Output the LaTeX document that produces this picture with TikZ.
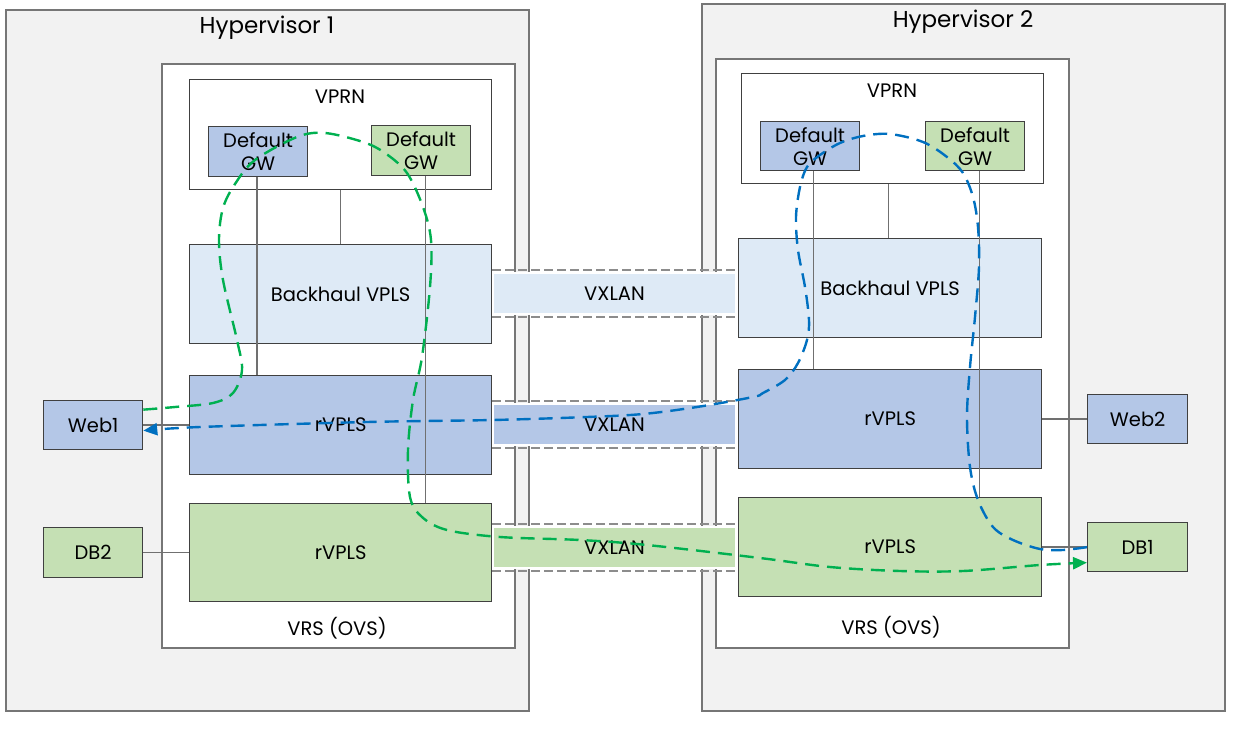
\documentclass[tikz,border=0pt]{standalone}
\usepackage{fontspec}
\setmainfont{Poppins}
\usetikzlibrary{arrows.meta,calc}
\definecolor{hypfill}{HTML}{F2F2F2}
\definecolor{hypline}{HTML}{767676}
\definecolor{boxline}{HTML}{404040}
\definecolor{lblue}{HTML}{DEEAF6}
\definecolor{mblue}{HTML}{B4C7E7}
\definecolor{mgreen}{HTML}{C5E0B4}
\definecolor{connc}{HTML}{707070}
\definecolor{vxline}{HTML}{8C8C8C}
\definecolor{pgreen}{HTML}{00B050}
\definecolor{pblue}{HTML}{0070C0}
\begin{document}
\begin{tikzpicture}[x=1pt,y=-1pt,font=\fontsize{19.5}{23}\selectfont,
  box/.style={rectangle,anchor=north west,inner sep=0pt,line width=1.3pt,draw=boxline,align=center},
  hyp/.style={box,draw=hypline,fill=hypfill,line width=1.6pt},
  vrs/.style={box,draw=hypline,fill=white,line width=1.6pt},
  plain/.style={box,fill=white},
  lb/.style={box,fill=lblue},
  bb/.style={box,fill=mblue},
  gb/.style={box,fill=mgreen},
  lbl/.style={inner sep=0pt},
  title/.style={inner sep=0pt,font=\fontsize{23}{27}\selectfont},
  connline/.style={draw=connc,line width=1.5pt},
  vxband/.style={rectangle,inner sep=0pt,draw=white,line width=1.5pt,minimum width=243pt,minimum height=41pt},
  vxdash/.style={draw=vxline,line width=1.8pt,dash pattern=on 9pt off 4pt},
  gpath/.style={draw=pgreen,line width=2.4pt,dash pattern=on 14pt off 8pt,-{Triangle[length=14pt,width=12pt]}},
  bpath/.style={draw=pblue,line width=2.4pt,dash pattern=on 14pt off 8pt,-{Triangle[length=14pt,width=12pt]}}
]
\useasboundingbox (0,0) rectangle (1248,744);
% hypervisors
\node[hyp,minimum width=523pt,minimum height=701pt] (h1) at (5,9) {};
\node[hyp,minimum width=523pt,minimum height=707pt] (h2) at (701,3) {};
\node[title] (t1) at (267,28) {Hypervisor 1};
\node[title] (t2) at (963,22) {Hypervisor 2};
% VRS
\node[vrs,minimum width=353pt,minimum height=584pt] (vrs1) at (161,63) {};
\node[vrs,minimum width=353pt,minimum height=589pt] (vrs2) at (715,58) {};
\node[lbl] (vrsl1) at (337,628) {VRS (OVS)};
\node[lbl] (vrsl2) at (891,627) {VRS (OVS)};
% VPRN
\node[plain,minimum width=302pt,minimum height=110pt] (vprn1) at (189,79) {};
\node[plain,minimum width=302pt,minimum height=110pt] (vprn2) at (741,73) {};
\node[lbl] (vpl1) at (340,97) {VPRN};
\node[lbl] (vpl2) at (892,91) {VPRN};
% gateways
\node[bb,minimum width=99pt,minimum height=50pt] (gwb1) at (208,126) {Default\\GW};
\node[gb,minimum width=99pt,minimum height=50pt] (gwg1) at (371,125) {Default\\GW};
\node[bb,minimum width=99pt,minimum height=49pt] (gwb2) at (760,121) {Default\\GW};
\node[gb,minimum width=99pt,minimum height=49pt] (gwg2) at (925,121) {Default\\GW};
% service boxes
\node[lb,minimum width=302pt,minimum height=99pt] (bh1) at (189,244) {Backhaul VPLS};
\node[lb,minimum width=303pt,minimum height=99pt] (bh2) at (738,238) {Backhaul VPLS};
\node[bb,minimum width=302pt,minimum height=99pt] (rb1) at (189,375) {};
\node[bb,minimum width=303pt,minimum height=99pt] (rb2) at (738,369) {};
\node[gb,minimum width=302pt,minimum height=98pt] (rg1) at (189,503) {};
\node[gb,minimum width=303pt,minimum height=99pt] (rg2) at (738,497) {};
% endpoints
\node[bb,minimum width=99pt,minimum height=49pt] (web1) at (43,400) {Web1};
\node[gb,minimum width=99pt,minimum height=50pt] (db2) at (43,527) {DB2};
\node[bb,minimum width=100pt,minimum height=49pt] (web2) at (1087,394) {Web2};
\node[gb,minimum width=100pt,minimum height=49pt] (db1) at (1087,522) {DB1};
% connectors
\draw[connline] (vprn1.south) -- (bh1.north);
\draw[connline] ([xshift=-4pt]vprn2.south) -- ([xshift=-4pt]vprn2.south |- bh2.north);
\draw[connline] ([xshift=-1pt]gwb1.south) -- ([xshift=-1pt]gwb1.south |- rb1.north);
\draw[connline] ([xshift=4.5pt]gwg1.south) -- ([xshift=4.5pt]gwg1.south |- rg1.north);
\draw[connline] ([xshift=3.5pt]gwb2.south) -- ([xshift=3.5pt]gwb2.south |- rb2.north);
\draw[connline] ([xshift=4.5pt]gwg2.south) -- ([xshift=4.5pt]gwg2.south |- rg2.north);
\draw[connline] (web1.east) -- (web1.east -| rb1.west);
\draw[connline] (db2.east) -- (db2.east -| rg1.west);
\draw[connline] (web2.west) -- (web2.west -| rb2.east);
\draw[connline] (db1.west) -- (db1.west -| rg2.east);
% labels of rVPLS
\node[lbl] (rbl1) at (rb1.center) {rVPLS};
\node[lbl] (rbl2) at (rb2.center) {rVPLS};
\node[lbl] (rgl1) at (rg1.center) {rVPLS};
\node[lbl] (rgl2) at (rg2.center) {rVPLS};
% VXLAN bands
\node[vxband,fill=lblue] (vx1) at (614.5,293.5) {VXLAN};
\node[vxband,fill=mblue] (vx2) at (614.5,424.5) {VXLAN};
\node[vxband,fill=mgreen] (vx3) at (614.5,547.5) {VXLAN};
\draw[vxdash] ([yshift=2.5pt]vx1.north -| bh1.east) -- ([yshift=2.5pt]vx1.north -| bh2.west);
\draw[vxdash] ([yshift=-2.5pt]vx1.south -| bh1.east) -- ([yshift=-2.5pt]vx1.south -| bh2.west);
\draw[vxdash] ([yshift=2.5pt]vx2.north -| rb1.east) -- ([yshift=2.5pt]vx2.north -| rb2.west);
\draw[vxdash] ([yshift=-2.5pt]vx2.south -| rb1.east) -- ([yshift=-2.5pt]vx2.south -| rb2.west);
\draw[vxdash] ([yshift=2.5pt]vx3.north -| rg1.east) -- ([yshift=2.5pt]vx3.north -| rg2.west);
\draw[vxdash] ([yshift=-2.5pt]vx3.south -| rg1.east) -- ([yshift=-2.5pt]vx3.south -| rg2.west);
% traffic paths
\coordinate (gs) at ($(web1.east)+(0,-15.5)$);
\coordinate (ge) at ($(db1.west)+(0,15.5)$);
\coordinate (bs) at (db1.west);
\coordinate (be) at ($(web1.east)+(0,5.5)$);
\draw[gpath] plot[smooth,tension=0.55] coordinates {(gs) (175,407) (213,403) (233,393) (242,370) (237,340) (223,280) (219,240) (223,208) (235,184) (255,160) (297,137) (325,133) (363,142) (385,153) (407,173) (423,207) (431,240) (430,287) (422,357) (413,400) (408,450) (410,497) (422,517) (447,530) (500,537) (580,540) (647,545) (760,558) (830,567) (900,571) (963,571) (1040,565) (ge)};
\draw[bpath] plot[smooth,tension=0.55] coordinates {(bs) (1063,550) (1040,549) (1013,540) (993,527) (978,500) (970,467) (967,417) (970,367) (975,317) (979,267) (978,227) (973,197) (963,173) (947,157) (923,142) (890,134) (863,136) (840,143) (820,155) (807,167) (800,187) (796,217) (798,250) (805,287) (809,320) (807,340) (798,363) (785,380) (763,393) (753,397) (697,407) (643,414) (587,417) (493,420) (367,422) (200,427) (be)};
\end{tikzpicture}
\end{document}
